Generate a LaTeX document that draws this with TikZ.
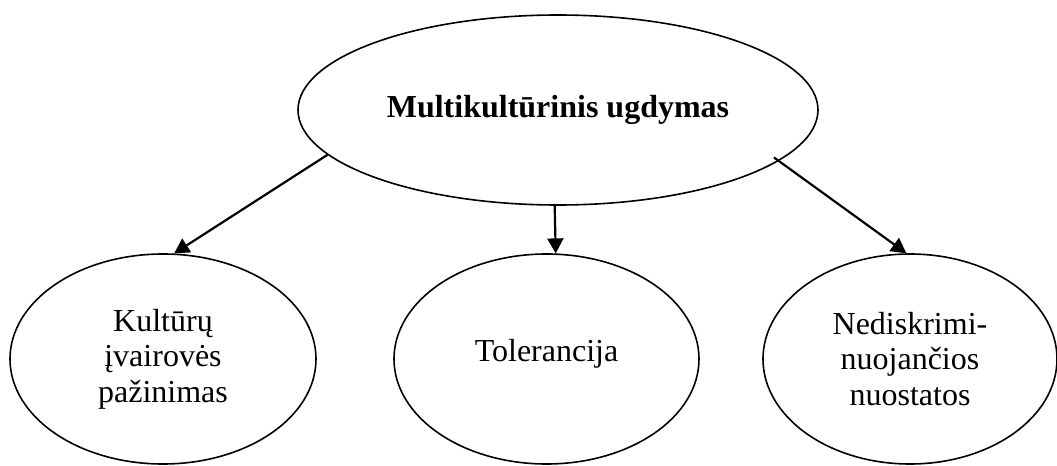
\documentclass[tikz,border=0pt]{standalone}
\usepackage{fontspec}
\setmainfont{Liberation Serif}
\usetikzlibrary{shapes.geometric,arrows.meta}
\begin{document}
\begin{tikzpicture}[x=0.5pt,y=-0.5pt,
  oval/.style={ellipse,draw,line width=0.8pt,inner sep=0pt,align=center,font=\fontsize{16}{17.8}\selectfont},
  conn/.style={line width=1.1pt,-{Triangle[length=7.5pt,width=8pt]}}]
\useasboundingbox (0,0) rectangle (1057,466);
\node[oval,minimum width=260pt,minimum height=95pt,font=\fontsize{16}{17.8}\selectfont\bfseries] (top) at (558,110) {Multikultūrinis ugdymas};
\node[oval,minimum width=153pt,minimum height=105pt] (left) at (163,359) {Kultūrų\\įvairovės\\pažinimas};
\node[oval,minimum width=152.5pt,minimum height=105pt,text height=8pt,text depth=6pt] (mid) at (546.5,359) {Tolerancija};
\node[oval,minimum width=147pt,minimum height=105pt] (right) at (910,359) {Nediskrimi-\\nuojančios\\nuostatos};
\draw[conn] (top.191.7) -- (left.84.6);
\draw[conn] (top.268.2) -- (mid.85.4);
\draw[conn,shorten <=-3pt] (top.347) -- (right.92.7);
\end{tikzpicture}
\end{document}
